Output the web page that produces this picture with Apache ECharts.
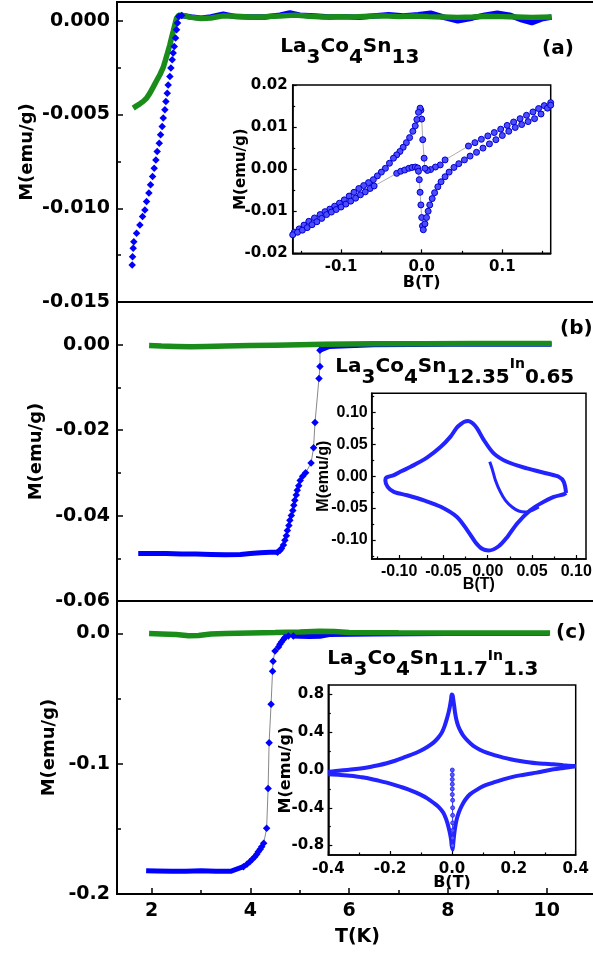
<!DOCTYPE html>
<html><head><meta charset="utf-8">
<script src="https://cdn.jsdelivr.net/npm/echarts@6/dist/echarts.min.js"></script>
<style>html,body{margin:0;padding:0;background:#fff}#c{width:593px;height:953px}</style>
</head><body><div id="c"></div>
<script>
// ---------------- DATA ----------------
// shared temperature axis ticks
const tMajor = [2, 4, 6, 8, 10];
const tMinor = [3, 5, 7, 9, 11];
// panel (a) La3Co4Sn13
const aMajor = [-0.015, -0.010, -0.005, 0.000];
const aMinor = [-0.0125, -0.0075, -0.0025];
const aZfcDrop = [[1.608,-0.01302],[1.615,-0.01258],[1.628,-0.01213],[1.641,-0.01178],[1.696,-0.01133],[1.763,-0.01089],[1.817,-0.01044],[1.864,-0.01009],[1.898,-0.00964],[1.945,-0.00919],[1.979,-0.00875],[2.020,-0.00831],[2.053,-0.00786],[2.087,-0.00742],[2.114,-0.00697],[2.155,-0.00653],[2.182,-0.00608],[2.215,-0.00564],[2.236,-0.00519],[2.269,-0.00475],[2.290,-0.00430],[2.317,-0.00386],[2.337,-0.00342],[2.371,-0.00297],[2.391,-0.00252],[2.418,-0.00208],[2.438,-0.00172],[2.459,-0.00137],[2.486,-0.00092],[2.506,-0.00048],[2.526,-0.00012],[2.553,0.00023],[2.61,0.00028]];
const aZfcFlat = [[2.61,0.00028],[2.8,0.0002],[3.0,0.00014],[3.2,0.0002],[3.45,0.00035],[3.7,0.00022],[4.0,0.0002],[4.3,0.0002],[4.6,0.0003],[4.8,0.00042],[5.0,0.0003],[5.3,0.00025],[5.6,0.0002],[5.9,0.00022],[6.2,0.00018],[6.5,0.00025],[6.8,0.00032],[7.1,0.00025],[7.4,0.00032],[7.65,0.0004],[7.9,0.0002],[8.2,0.0000],[8.5,0.00015],[8.75,0.0003],[9.0,0.0004],[9.25,0.0003],[9.5,0.00005],[9.7,-0.0001],[9.9,0.0001],[10.1,0.0002]];
const aFc = [[1.628,-0.00466],[1.696,-0.00454],[1.763,-0.00443],[1.831,-0.00430],[1.898,-0.00413],[1.966,-0.00386],[2.033,-0.00354],[2.101,-0.00320],[2.168,-0.00288],[2.236,-0.00249],[2.283,-0.00208],[2.323,-0.00172],[2.371,-0.00128],[2.404,-0.00092],[2.438,-0.00057],[2.472,-0.00021],[2.506,0.00014],[2.553,0.00030],[2.6,0.0003],[2.8,0.00018],[3.0,0.00012],[3.2,0.00015],[3.45,0.00026],[3.7,0.00024],[4.0,0.0002],[4.3,0.00022],[4.6,0.00025],[4.9,0.0003],[5.2,0.00024],[5.5,0.0002],[5.8,0.00022],[6.1,0.0002],[6.4,0.00024],[6.7,0.00026],[7.0,0.00022],[7.3,0.00025],[7.6,0.00022],[7.9,0.0002],[8.2,0.00018],[8.5,0.0002],[8.8,0.00024],[9.1,0.00022],[9.4,0.0002],[9.7,0.00018],[10.1,0.0002]];
// panel (b) La3Co4Sn12.35In0.65
const bMajor = [-0.06, -0.04, -0.02, 0.00];
const bMinor = [-0.05, -0.03, -0.01];
const bZfcFlat = [[1.73,-0.0489],[2.0,-0.0489],[2.3,-0.0489],[2.6,-0.0490],[2.9,-0.0490],[3.2,-0.0491],[3.5,-0.0492],[3.8,-0.0491],[4.0,-0.0489],[4.2,-0.0487],[4.4,-0.0486],[4.55,-0.0486]];
const bZfcRise = [[4.55,-0.0486],[4.60,-0.0482],[4.63,-0.0477],[4.67,-0.0469],[4.70,-0.0458],[4.73,-0.0447],[4.75,-0.0435],[4.78,-0.0423],[4.80,-0.0411],[4.83,-0.0400],[4.86,-0.0388],[4.88,-0.0376],[4.90,-0.0364],[4.93,-0.0352],[4.95,-0.0341],[4.98,-0.0330],[5.01,-0.0318],[5.06,-0.0308],[5.12,-0.0300],[5.23,-0.0277],[5.28,-0.0241],[5.31,-0.0182],[5.39,-0.0079],[5.41,-0.0051],[5.41,-0.0013]];
const bZfcTop = [[5.41,-0.0013],[5.6,-0.0004],[6.5,0.0000],[8.0,0.0001],[10.1,0.0001]];
const bFc = [[1.95,-0.0002],[2.2,-0.0003],[2.5,-0.0004],[2.8,-0.0005],[3.1,-0.0004],[3.5,-0.0003],[4.0,-0.0002],[4.5,-0.0001],[5.0,0.0],[5.5,0.0001],[6.5,0.0002],[7.5,0.0002],[8.5,0.0003],[9.5,0.0003],[10.1,0.0003]];
// panel (c) La3Co4Sn11.7In1.3
const cMajor = [-0.2, -0.1, 0.0];
const cMinor = [-0.15, -0.05];
const cZfcFlat = [[1.89,-0.1821],[2.1,-0.1823],[2.4,-0.1826],[2.7,-0.1825],[3.0,-0.1822],[3.3,-0.1826],[3.6,-0.1826],[3.86,-0.1790]];
const cZfcRise = [[3.86,-0.1790],[3.93,-0.1772],[3.99,-0.1752],[4.04,-0.1733],[4.09,-0.1714],[4.13,-0.1695],[4.16,-0.1675],[4.20,-0.1656],[4.23,-0.1637],[4.27,-0.1611],[4.33,-0.1496],[4.36,-0.1189],[4.38,-0.0839],[4.42,-0.0542],[4.45,-0.0289],[4.46,-0.0212],[4.50,-0.0133],[4.57,-0.0103],[4.60,-0.0082],[4.63,-0.0064],[4.67,-0.0046],[4.70,-0.0031],[4.77,-0.0018],[4.87,-0.0018]];
const cZfcTop = [[4.87,-0.0018],[5.0,-0.0020],[5.2,-0.0022],[5.41,-0.0020],[5.6,-0.0008],[6.5,-0.0003],[8.0,0.0],[10.05,0.0]];
const cFc = [[1.95,0.0],[2.2,-0.0003],[2.5,-0.0008],[2.75,-0.0016],[2.95,-0.0015],[3.2,-0.0003],[3.5,0.0],[4.0,0.0005],[4.5,0.0008],[5.0,0.0012],[5.4,0.0018],[5.7,0.0016],[6.0,0.0008],[7.0,0.0006],[8.0,0.0005],[9.0,0.0005],[10.07,0.0004]];
// inset (a): M vs B
const iaBMajor = [-0.1, 0.0, 0.1];
const iaBMinor = [-0.15, -0.05, 0.05, 0.15];
const iaMMajor = [-0.02, -0.01, 0.00, 0.01, 0.02];
const iaMMinor = [-0.015, -0.005, 0.005, 0.015];
const insA = [[0.160,0.0158],[0.152,0.0151],[0.145,0.0144],[0.138,0.0136],[0.130,0.0128],[0.122,0.0120],[0.114,0.0112],[0.106,0.0104],[0.098,0.0095],[0.090,0.0087],[0.082,0.0079],[0.074,0.0071],[0.066,0.0063],[0.058,0.0055],
 [0.029,0.0022],[0.023,0.0010],[0.017,0.0005],[0.011,-0.0001],[0.007,-0.0003],[0.004,0.0002],[0.003,0.0026],[0.0013,0.0070],[0.000,0.0119],[-0.001,0.0140],[-0.002,0.0145],
 [-0.004,0.0135],[-0.006,0.0118],[-0.008,0.0103],[-0.011,0.0090],[-0.015,0.0075],[-0.019,0.0063],[-0.023,0.0052],[-0.027,0.0042],[-0.031,0.0034],[-0.035,0.0026],[-0.040,0.0014],[-0.045,0.0002],[-0.050,-0.0007],[-0.055,-0.0016],[-0.060,-0.0025],[-0.066,-0.0032],[-0.072,-0.0039],[-0.078,-0.0046],[-0.084,-0.0055],[-0.090,-0.0064],[-0.096,-0.0073],[-0.102,-0.0081],[-0.108,-0.0088],[-0.114,-0.0095],[-0.120,-0.0101],[-0.126,-0.0108],[-0.133,-0.0116],[-0.140,-0.0124],[-0.146,-0.0133],[-0.152,-0.0142],[-0.158,-0.0150],
 [-0.160,-0.0156],[-0.154,-0.0150],[-0.148,-0.0145],[-0.142,-0.0139],[-0.136,-0.0132],[-0.130,-0.0125],[-0.124,-0.0117],[-0.118,-0.0108],[-0.112,-0.0102],[-0.106,-0.0096],[-0.100,-0.0090],[-0.094,-0.0083],[-0.088,-0.0076],[-0.082,-0.0069],[-0.076,-0.0061],[-0.070,-0.0054],[-0.064,-0.0046],[-0.059,-0.0040],
 [-0.031,-0.0010],[-0.026,-0.0005],[-0.021,-0.0002],[-0.016,0.0002],[-0.012,0.0004],[-0.008,0.0005],[-0.005,0.0003],[-0.004,-0.0005],[-0.003,-0.0025],[-0.002,-0.0055],[-0.001,-0.0085],[0.000,-0.0115],[0.001,-0.0135],[0.002,-0.0144],
 [0.004,-0.0130],[0.006,-0.0115],[0.008,-0.0100],[0.010,-0.0085],[0.013,-0.0070],[0.016,-0.0056],[0.020,-0.0042],[0.024,-0.0030],[0.029,-0.0018],[0.034,-0.0007],[0.040,0.0004],[0.046,0.0013],[0.053,0.0022],[0.060,0.0031],[0.068,0.0040],[0.076,0.0050],[0.084,0.0060],[0.092,0.0070],[0.100,0.0080],[0.108,0.0090],[0.116,0.0099],[0.124,0.0106],[0.132,0.0113],[0.140,0.0120],[0.148,0.0131],[0.156,0.0145],[0.160,0.0152]];
// inset (b)
const ibBMajor = [-0.10, -0.05, 0.00, 0.05, 0.10];
const ibBMinor = [-0.125, -0.075, -0.025, 0.025, 0.075];
const ibMMajor = [-0.10, -0.05, 0.00, 0.05, 0.10];
const ibMMinor = [-0.125, -0.075, -0.025, 0.025, 0.075, 0.125];
const insBLoop = [[0.0885,-0.0263],[0.0859,-0.0089],[0.0802,-0.0010],[0.067,0.0042],[0.0444,0.0121],[0.0218,0.0226],[0.0068,0.0358],[-0.0045,0.0570],[-0.012,0.0750],[-0.017,0.0830],[-0.022,0.0866],[-0.027,0.0850],[-0.031,0.0810],[-0.035,0.0760],[-0.042,0.0620],[-0.053,0.0460],[-0.0686,0.0290],[-0.087,0.0147],[-0.097,0.0080],[-0.106,0.0016],[-0.1145,-0.0021],[-0.1156,-0.0063],[-0.113,-0.0168],[-0.106,-0.0247],[-0.091,-0.0300],[-0.072,-0.0380],[-0.053,-0.0480],[-0.0347,-0.0640],[-0.023,-0.0850],[-0.0139,-0.1036],[-0.0064,-0.1140],[0.0011,-0.1167],[0.0124,-0.1100],[0.022,-0.0957],[0.033,-0.0747],[0.048,-0.0536],[0.0595,-0.0431],[0.0746,-0.0326],[0.086,-0.0284],[0.0885,-0.0263]];
const insBVirgin = [[0.0023,0.0226],[0.0049,0.0121],[0.0087,-0.0063],[0.0143,-0.0247],[0.0200,-0.0379],[0.0275,-0.0484],[0.0350,-0.0547],[0.0426,-0.0563],[0.0520,-0.0526],[0.0576,-0.0484]];
// inset (c)
const icBMajor = [-0.4, -0.2, 0.0, 0.2, 0.4];
const icBMinor = [-0.3, -0.1, 0.1, 0.3];
const icMMajor = [-0.8, -0.4, 0.0, 0.4, 0.8];
const icMMinor = [-0.6, -0.2, 0.2, 0.6];
const insCUpper = [[-0.400,-0.020],[-0.360,-0.005],[-0.319,0.007],[-0.290,0.018],[-0.265,0.032],[-0.238,0.050],[-0.211,0.071],[-0.184,0.098],[-0.157,0.131],[-0.130,0.164],[-0.1035,0.202],[-0.080,0.244],[-0.060,0.290],[-0.045,0.340],[-0.033,0.396],[-0.024,0.465],[-0.017,0.538],[-0.011,0.610],[-0.0065,0.680],[-0.003,0.750],[-0.001,0.800],[0.002,0.790],[0.004,0.750],[0.007,0.680],[0.0097,0.610],[0.014,0.535],[0.020,0.467],[0.028,0.410],[0.037,0.361],[0.052,0.305],[0.069,0.255],[0.090,0.215],[0.112,0.184],[0.140,0.155],[0.166,0.131],[0.193,0.112],[0.220,0.096],[0.247,0.082],[0.274,0.071],[0.300,0.065],[0.328,0.060],[0.360,0.050],[0.392,0.042],[0.400,0.040]];
const insCLower = [[0.400,0.040],[0.360,0.022],[0.328,0.007],[0.300,-0.010],[0.274,-0.028],[0.247,-0.042],[0.220,-0.057],[0.193,-0.076],[0.166,-0.099],[0.135,-0.132],[0.101,-0.170],[0.080,-0.210],[0.058,-0.258],[0.043,-0.315],[0.031,-0.382],[0.022,-0.450],[0.015,-0.524],[0.010,-0.610],[0.0065,-0.700],[0.004,-0.780],[0.002,-0.842],[-0.001,-0.800],[-0.003,-0.736],[-0.007,-0.665],[-0.012,-0.595],[-0.019,-0.520],[-0.028,-0.453],[-0.042,-0.395],[-0.060,-0.347],[-0.080,-0.300],[-0.1035,-0.258],[-0.130,-0.220],[-0.157,-0.188],[-0.184,-0.160],[-0.211,-0.134],[-0.238,-0.112],[-0.265,-0.092],[-0.292,-0.077],[-0.319,-0.064],[-0.360,-0.052],[-0.400,-0.045]];
const insCVirgin = [[0.001,0.000],[0.001,-0.050],[0.001,-0.100],[0.001,-0.150],[0.001,-0.200],[0.001,-0.260],[0.002,-0.320],[0.002,-0.400],[0.002,-0.480],[0.002,-0.560],[0.002,-0.640],[0.002,-0.720],[0.002,-0.800]];

// ---------------- BUILD ----------------
const FONT = 'DejaVu Sans';
const ARIAL = 'Liberation Sans';
const BLUE = '#0000ff', GREEN = '#198c19';
const grid = [], xAxis = [], yAxis = [], series = [], title = [];
function fmt(d){ return v => (Math.abs(v) < 1e-9 ? 0 : v).toFixed(d); }
function addAxis(list, gi, s){
  const base = {type:'value', gridIndex: gi, min: s.min, max: s.max, position: s.pos};
  list.push(Object.assign({}, base, {
    axisLine:{show:true, onZero:false, lineStyle:{color:'#000', width:s.lw}},
    axisTick:{show:!!s.major, inside:true, length:s.tl, customValues:s.major||[], lineStyle:{color:'#000', width:s.tw}},
    axisLabel:{show:!!s.labels, customValues:s.major||[], formatter:s.fmt, margin:s.lm, color:'#000', fontFamily:s.ff||FONT, fontWeight:'bold', fontSize:s.fs},
    splitLine:{show:false},
    name:s.name||'', nameLocation:'middle', nameGap:s.ng||0, nameMoveOverlap:false,
    nameTextStyle:{color:'#000', fontFamily:s.nff||FONT, fontWeight:'bold', fontSize:s.nfs||16}
  }));
  const idx = list.length - 1;
  if (s.minor) list.push(Object.assign({}, base, {
    axisLine:{show:false, onZero:false},
    axisTick:{show:true, inside:true, length:s.tl2, customValues:s.minor, lineStyle:{color:'#000', width:s.tw}},
    axisLabel:{show:false}, splitLine:{show:false}
  }));
  return idx;
}
function addGrid(g){ grid.push(Object.assign({show:true, borderColor:'#000', outerBoundsMode:'none', containLabel:false}, g)); return grid.length - 1; }
function addSeries(xi, yi, data, o){ series.push(Object.assign({type:'line', xAxisIndex:xi, yAxisIndex:yi, data:data, animation:false, silent:true}, o)); }
const band = (c, w) => ({symbol:'none', lineStyle:{color:c, width:w}});
const diam = {symbol:'diamond', symbolSize:7.5, itemStyle:{color:BLUE}, lineStyle:{color:'#555', width:0.7}};

// main panels
const TMIN = 1.3, TMAX = 11.04;
const panels = [
  {top:2, h:300, min:-0.015, max:0.001, major:aMajor, minor:aMinor, d:3, ng:81},
  {top:302, h:299, min:-0.06, max:0.01, major:bMajor, minor:bMinor, d:2, ng:72},
  {top:601, h:293, min:-0.2, max:0.025, major:cMajor, minor:cMinor, d:1, ng:59}
];
const P = panels.map((p, i) => {
  const gi = addGrid({left:117, width:481, top:p.top, height:p.h, borderWidth:2});
  const last = i === 2;
  const xi = addAxis(xAxis, gi, {min:TMIN, max:TMAX, pos:'bottom', lw:2, tw:1.5, tl:6, tl2:4,
    major: last ? tMajor : null, minor: last ? tMinor : null, labels:last, fmt:fmt(0), lm:8, fs:19,
    name: last ? 'T(K)' : '', ng:34, nfs:19});
  const yi = addAxis(yAxis, gi, {min:p.min, max:p.max, pos:'left', lw:2, tw:1.5, tl:6, tl2:4,
    major:p.major, minor:p.minor, labels:true, fmt:fmt(p.d), lm:7, fs:19,
    name:'M(emu/g)', ng:p.ng, nfs:18});
  return {xi, yi};
});
// panel (a)
addSeries(P[0].xi, P[0].yi, aZfcFlat, band(BLUE, 5.5));
addSeries(P[0].xi, P[0].yi, aZfcDrop, Object.assign({}, diam, {lineStyle:{width:0}}));
addSeries(P[0].xi, P[0].yi, aFc, band(GREEN, 5.5));
// panel (b)
addSeries(P[1].xi, P[1].yi, bZfcFlat, band(BLUE, 5));
addSeries(P[1].xi, P[1].yi, bZfcTop, band(BLUE, 5));
addSeries(P[1].xi, P[1].yi, bZfcRise, diam);
addSeries(P[1].xi, P[1].yi, bFc, band(GREEN, 5.5));
// panel (c)
addSeries(P[2].xi, P[2].yi, cZfcFlat, band(BLUE, 5));
addSeries(P[2].xi, P[2].yi, cZfcTop, band(BLUE, 5));
addSeries(P[2].xi, P[2].yi, cZfcRise, diam);
addSeries(P[2].xi, P[2].yi, cFc, band(GREEN, 5.5));

// insets
function inset(g, xs, ys){
  const gi = addGrid(Object.assign({backgroundColor:'#fff', borderWidth:1.5}, g));
  const xi = addAxis(xAxis, gi, Object.assign({pos:'bottom', lw:1.5, tw:1.2, tl:4, tl2:2.5, labels:true, name:'B(T)'}, xs));
  const yi = addAxis(yAxis, gi, Object.assign({pos:'left', lw:1.5, tw:1.2, tl:4, tl2:2.5, labels:true, name:'M(emu/g)'}, ys));
  return {xi, yi};
}
const IA = inset({left:292.7, top:85, width:258, height:168.3},
  {min:-0.16, max:0.16, major:iaBMajor, minor:iaBMinor, fmt:fmt(1), lm:6, fs:15, ng:22, nfs:16},
  {min:-0.02, max:0.02, major:iaMMajor, minor:iaMMinor, fmt:fmt(2), lm:5, fs:15, ng:44, nfs:15});
addSeries(IA.xi, IA.yi, insA, {symbol:'circle', symbolSize:6, itemStyle:{color:'#4d4dff', borderColor:'#0000cc', borderWidth:1}, lineStyle:{color:'#888', width:0.7}});

const IB = inset({left:371.7, top:393.3, width:214.3, height:165.7},
  {min:-0.131, max:0.111, major:ibBMajor, minor:ibBMinor, fmt:fmt(2), lm:5, fs:16, ff:ARIAL, ng:18, nfs:16, nff:ARIAL},
  {min:-0.13, max:0.13, major:ibMMajor, minor:ibMMinor, fmt:fmt(2), lm:4, fs:16, ff:ARIAL, ng:40, nfs:16, nff:ARIAL});
addSeries(IB.xi, IB.yi, insBLoop, {symbol:'none', smooth:0.3, lineStyle:{color:'#2323ff', width:4}});
addSeries(IB.xi, IB.yi, insBVirgin, {symbol:'none', smooth:0.3, lineStyle:{color:'#2323ff', width:3}});

const IC = inset({left:328.3, top:685, width:247.4, height:170},
  {min:-0.4, max:0.4, major:icBMajor, minor:icBMinor, fmt:fmt(1), lm:7, fs:15, ng:20, nfs:16},
  {min:-0.9, max:0.9, major:icMMajor, minor:icMMinor, fmt:fmt(1), lm:4, fs:15, ng:34, nfs:16});
addSeries(IC.xi, IC.yi, insCUpper, {symbol:'none', smooth:0.3, lineStyle:{color:'#2323ff', width:4}});
addSeries(IC.xi, IC.yi, insCLower, {symbol:'none', smooth:0.3, lineStyle:{color:'#2323ff', width:4}});
addSeries(IC.xi, IC.yi, insCVirgin, {symbol:'circle', symbolSize:4, itemStyle:{color:'#5a5aff', borderColor:'#2020ee', borderWidth:0.8}, lineStyle:{color:'#3030ff', width:1}});

// titles
const rich = {
  m:{fontFamily:FONT, fontWeight:'bold', fontSize:20, lineHeight:24, verticalAlign:'top', color:'#000'},
  s:{fontFamily:FONT, fontWeight:'bold', fontSize:20, lineHeight:24, verticalAlign:'bottom', color:'#000'},
  i:{fontFamily:FONT, fontWeight:'bold', fontSize:14, lineHeight:29, verticalAlign:'top', color:'#000'},
  z:{fontSize:1, lineHeight:31, color:'rgba(0,0,0,0)'}
};
function tt(left, top, text){ title.push({left, top, text, padding:0, textStyle:{rich, fontFamily:FONT, fontWeight:'bold', fontSize:20, color:'#000'}}); }
tt(280, 37, '{z| }{m|La}{s|3}{m|Co}{s|4}{m|Sn}{s|13}');
tt(335, 357, '{z| }{m|La}{s|3}{m|Co}{s|4}{m|Sn}{s|12.35}{i|In}{s|0.65}');
tt(327, 649, '{z| }{m|La}{s|3}{m|Co}{s|4}{m|Sn}{s|11.7}{i|In}{s|1.3}');
tt(542, 39, '{m|(a)}');
tt(560, 319, '{m|(b)}');
tt(556, 623, '{m|(c)}');

const chart = echarts.init(document.getElementById('c'), null, {renderer:'canvas'});
chart.setOption({animation:false, backgroundColor:'#fff', grid, xAxis, yAxis, series, title});
</script></body></html>
